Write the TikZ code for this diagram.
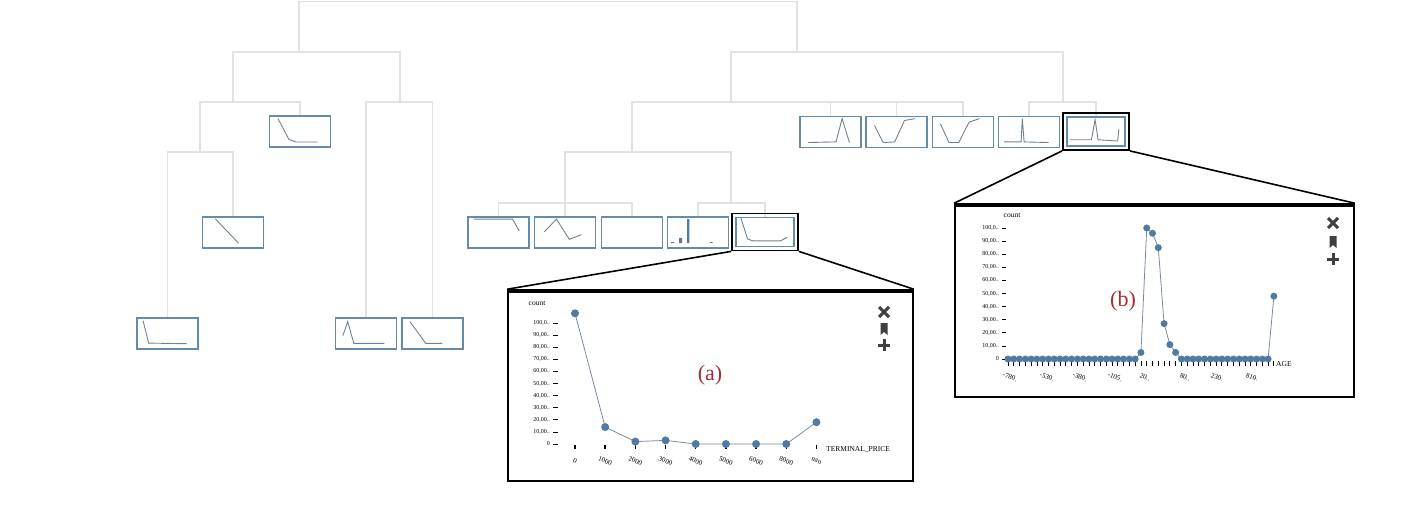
\documentclass[tikz,border=0pt]{standalone}
\usepackage{fontspec}
\setmainfont{Liberation Serif}
\usepackage{xcolor}
\usepackage{tikz}
\usetikzlibrary{positioning}

\definecolor{treegray}{RGB}{226,226,226}
\definecolor{boxblue}{RGB}{100,140,170}
\definecolor{sparkgray}{RGB}{112,130,146}
\definecolor{dotblue}{RGB}{80,122,162}
\definecolor{linkgray}{RGB}{120,140,160}
\definecolor{icongray}{RGB}{64,64,64}
\definecolor{tagred}{RGB}{165,45,50}

% sparkline inside a leaf box, coordinates as fractions of the box
\newcommand{\spark}[2]{\draw[spark, shift={(#1.south west)}, x=61pt, y=31pt] plot coordinates {#2};}
% close, bookmark and add icons of a panel
\newcommand{\panelicons}[4]{
  \draw[icon] ({#1-5},{#2-5}) -- ({#1+5},{#2+5}) ({#1-5},{#2+5}) -- ({#1+5},{#2-5});
  \fill[icongray] ({#1-3.5},{#3-6}) -- ({#1+3.5},{#3-6}) -- ({#1+3.5},{#3+6}) -- (#1,{#3+3}) -- ({#1-3.5},{#3+6}) -- cycle;
  \draw[icon] ({#1-6},#4) -- ({#1+6},#4) (#1,{#4-6}) -- (#1,{#4+6});
}

\begin{document}
\begin{tikzpicture}[x=1pt, y=-1pt,
  treeline/.style={draw=treegray, line width=1.3pt},
  leaf/.style={draw=boxblue, line width=1.2pt, minimum width=61pt, minimum height=31pt, inner sep=0pt, fill=white},
  selbox/.style={draw=black, line width=1.8pt, minimum width=66pt, minimum height=37pt, inner sep=0pt},
  spark/.style={draw=sparkgray, line width=0.9pt},
  panel/.style={draw=black, line width=1.6pt, inner sep=0pt, fill=white},
  topbar/.style={draw=black, line width=4pt},
  zoomline/.style={draw=black, line width=1.6pt},
  link/.style={draw=linkgray, line width=0.8pt},
  dot/.style={fill=dotblue},
  ylab/.style={anchor=east, inner sep=0pt, font=\fontsize{6}{6}\selectfont},
  xlab/.style={inner sep=0pt, rotate=-20, font=\fontsize{7}{8}\selectfont},
  axlabel/.style={inner sep=0pt, font=\fontsize{7.5}{8}\selectfont},
  axtick/.style={draw=black, line width=0.8pt},
  tag/.style={text=tagred, inner sep=0pt, font=\fontsize{22}{24}\selectfont},
  icon/.style={draw=icongray, line width=3pt},
]
\useasboundingbox (0,0) rectangle (1410,523);

% inner nodes of the tree
\coordinate (root) at (548,1.5);
\coordinate (a) at (299,52);
\coordinate (b) at (797,52);
\coordinate (a1) at (233,102);
\coordinate (a2) at (400,102);
\coordinate (a11) at (200,152);
\coordinate (b1) at (731,102);
\coordinate (b2) at (1063,102);
\coordinate (c) at (632,152);
\coordinate (c1) at (565,203);
\coordinate (c2) at (731,203);

% leaves
\node[leaf] (l1) at (300,131.5) {};
\node[leaf] (l2) at (233,232.5) {};
\node[leaf] (l3) at (167.5,333.5) {};
\node[leaf] (l4) at (366,333.5) {};
\node[leaf] (l5) at (432.5,333.5) {};
\node[leaf] (m1) at (498.5,232.5) {};
\node[leaf] (m2) at (565,232.5) {};
\node[leaf] (m3) at (632,232.5) {};
\node[leaf] (m4) at (698,232.5) {};
\node[leaf, minimum width=58pt, minimum height=29pt] (m5) at (765,232) {};
\node[leaf] (r1) at (830.5,132) {};
\node[leaf] (r2) at (896.5,132) {};
\node[leaf] (r3) at (963,132) {};
\node[leaf] (r4) at (1029,132) {};
\node[leaf, minimum width=58pt, minimum height=29pt] (r5) at (1096,131.5) {};

\foreach \p/\c in {root/a, root/b, a/a1, a/a2, a1/a11, b/b1, b/b2, b1/c, c/c1, c/c2}
  \draw[treeline] (\p) -| (\c);
\foreach \p/\c in {a1/l1, a11/l2, a11/l3, a2/l4, a2/l5, c1/m1, c1/m2, c1/m3, c2/m4, c2/m5,
                   b1/r1, b1/r2, b1/r3, b2/r4, b2/r5}
  \draw[treeline] (\p) -| (\c);

% sparklines
\spark{l1}{(0.15,0.93) (0.33,0.26) (0.45,0.18) (0.8,0.18)}
\spark{l2}{(0.22,0.96) (0.6,0.18)}
\spark{l3}{(0.11,0.93) (0.2,0.21) (0.83,0.19)}
\spark{l4}{(0.13,0.45) (0.21,0.9) (0.31,0.2) (0.81,0.2)}
\spark{l5}{(0.14,0.9) (0.4,0.2) (0.67,0.2)}
\spark{m1}{(0.11,0.95) (0.74,0.95) (0.85,0.57)}
\spark{m2}{(0.17,0.54) (0.37,0.95) (0.58,0.3) (0.78,0.45)}
\fill[dotblue, shift={(m4.south west)}, x=61pt, y=31pt] (0.07,0.18) rectangle (0.12,0.21)
  (0.2,0.18) rectangle (0.25,0.35) (0.33,0.18) rectangle (0.37,0.95) (0.7,0.18) rectangle (0.75,0.21);
\spark{m5}{(0.09,0.94) (0.2,0.26) (0.29,0.2) (0.74,0.2) (0.85,0.32)}
\spark{r1}{(0.14,0.18) (0.6,0.2) (0.7,0.95) (0.82,0.18)}
\spark{r2}{(0.15,0.73) (0.29,0.18) (0.48,0.2) (0.64,0.89) (0.81,0.95)}
\spark{r3}{(0.14,0.78) (0.28,0.18) (0.44,0.18) (0.61,0.84) (0.78,0.95)}
\spark{r4}{(0.1,0.2) (0.38,0.2) (0.4,0.95) (0.43,0.2) (0.83,0.18)}
\spark{r5}{(0.06,0.22) (0.41,0.22) (0.47,0.87) (0.52,0.22) (0.84,0.18) (0.86,0.57)}

% selected leaves and their panels
\node[selbox] (m5sel) at (m5) {};
\node[selbox] (r5sel) at (r5) {};
\node[panel, minimum width=405pt, minimum height=191pt] (pa) at (710.5,385.5) {};
\node[panel, minimum width=399pt, minimum height=193pt] (pb) at (1154.5,300.5) {};
\draw[topbar] ([yshift=-1.5pt]pa.north west) -- ([yshift=-1.5pt]pa.north east);
\draw[topbar] ([yshift=-1.5pt]pb.north west) -- ([yshift=-1.5pt]pb.north east);
\draw[zoomline] (m5sel.south west) -- (pa.north west);
\draw[zoomline] (m5sel.south east) -- (pa.north east);
\draw[zoomline] (r5sel.south west) -- (pb.north west);
\draw[zoomline] (r5sel.south east) -- (pb.north east);

% panel (a)
\node[axlabel] at (537,303) {count};
\node[ylab] at (550,444) {0};
\foreach \k in {1,...,9}
  \node[ylab] at (550,{444-12.1*\k}) {\k0,00..};
\node[ylab] at (550,323) {100,0..};
\foreach \k in {0,...,10}
  \draw[axtick] (553,{444-12.1*\k}) -- (558,{444-12.1*\k});
\foreach \t [count=\i from 0] in {0,1000,2000,3000,4000,5000,6000,8000,nan} {
  \draw[axtick, line width=1.4pt] ({575+30.18*\i},445) -- ++(0,4);
  \node[xlab] at ({575+30.18*\i},461) {\t};
}
\node[axlabel, anchor=west] at (826,449) {TERMINAL\_PRICE};
\foreach \v [count=\i from 0] in {108,14,2,3,0,0,0,0,18}
  \coordinate (pa\i) at ({575+30.18*\i},{444-1.21*\v});
\draw[link] (pa0) \foreach \i in {1,...,8} {-- (pa\i)};
\foreach \i in {0,...,8}
  \fill[dot] (pa\i) circle[radius=4pt];
\node[tag] (taga) at (710,375) {(a)};
\panelicons{884}{312}{329}{345}

% panel (b)
\node[axlabel] at (1012,215) {count};
\node[ylab] at (999,359) {0};
\foreach \k in {1,...,9}
  \node[ylab] at (999,{359-13.1*\k}) {\k0,00..};
\node[ylab] at (999,228) {100,0..};
\foreach \k in {0,...,10}
  \draw[axtick] (1002,{359-13.1*\k}) -- (1006,{359-13.1*\k});
\foreach \t/\x in {-780./1010, -530./1047, -380./1080, -105./1115, 20../1145, 80../1185, 230./1217, 810./1252}
  \node[xlab] at (\x,377) {\t};
\node[axlabel, anchor=west] at (1276,364) {AGE};
\foreach \v [count=\i] in {0,0,0,0,0,0,0,0,0,0,0,0,0,0,0,0,0,0,0,0,0,0,0,
                           5,100,96,85,27,11,5,
                           0,0,0,0,0,0,0,0,0,0,0,0,0,0,0,0,48}
  \coordinate (pb\i) at ({1008+5.78*(\i-1)},{359-1.31*\v});
\foreach \i in {1,...,47}
  \draw[axtick] ({1008+5.78*(\i-1)},361) -- ++(0,5);
\draw[link] (pb1) \foreach \i in {2,...,47} {-- (pb\i)};
\foreach \i in {1,...,47}
  \fill[dot] (pb\i) circle[radius=3.5pt];
\node[tag] (tagb) at (1123,301) {(b)};
\panelicons{1333}{223}{242}{259}
\end{tikzpicture}
\end{document}
